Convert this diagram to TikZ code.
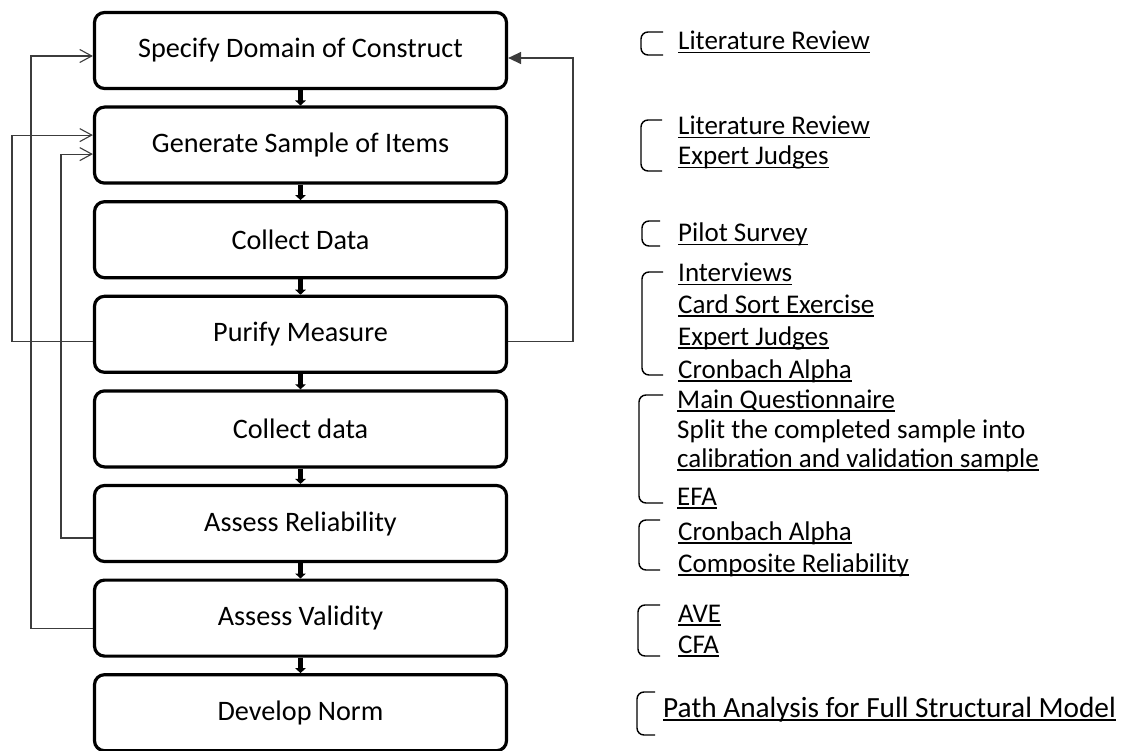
\documentclass[tikz,border=0pt]{standalone}
\usepackage{fontspec}
\setmainfont{Carlito}
\usetikzlibrary{arrows.meta}
% underlined text with a rule a little below the baseline
\newcommand\ulbox[1]{\setbox0\hbox{#1}\rlap{\rule[-3.5pt]{\wd0}{1.6pt}}\box0}
\definecolor{fbgray}{HTML}{3C3C3C}
\begin{document}
\begin{tikzpicture}[x=1pt,y=-1pt,
  stage/.style={draw=black, line width=3.2pt, rounded corners=10pt,
    minimum width=412pt, minimum height=76pt, inner sep=0pt,
    font=\fontsize{28.2}{33}\selectfont},
  flow/.style={draw=black, line width=4.5pt, -{Triangle[length=5pt,width=10.5pt]}},
  fb/.style={draw=fbgray, line width=1.1pt, -{Straight Barb[length=12pt,width=13pt]}},
  fbret/.style={draw=fbgray, line width=1.3pt, -{Triangle[length=13pt,width=12pt]}},
  note/.style={inner sep=0pt, anchor=base west, font=\fontsize{27}{32}\selectfont},
  bignote/.style={inner sep=0pt, anchor=base west, font=\fontsize{29.3}{34}\selectfont},
  brk/.style={draw=black, line width=1.4pt, rounded corners=7pt}]
\useasboundingbox (0,0) rectangle (1127,751);

% process stages
\node[stage] (b1) at (300.5,50.5)  {Specify Domain of Construct};
\node[stage] (b2) at (300.5,145.1) {Generate Sample of Items};
\node[stage] (b3) at (300.5,239.7) {Collect Data};
\node[stage] (b4) at (300.5,334.3) {Purify Measure};
\node[stage] (b5) at (300.5,428.9) {Collect data};
\node[stage] (b6) at (300.5,523.5) {Assess Reliability};
\node[stage] (b7) at (300.5,618.1) {Assess Validity};
\node[stage] (b8) at (300.5,712.7) {Develop Norm};

\foreach \a/\b in {b1/b2,b2/b3,b3/b4,b4/b5,b5/b6,b6/b7,b7/b8}
  \draw[flow] (\a) -- (\b);

% feedback lanes
\coordinate (laneA) at (12,0);
\coordinate (laneB) at (31,0);
\coordinate (laneC) at (61,0);
\coordinate (laneR) at (573,0);

\draw[fb] ([yshift=-7.5pt]b4.west) -- ([yshift=-7.5pt]b4.west -| laneA)
  |- ([yshift=10pt]b2.west);
\draw[fb] ([yshift=-14.5pt]b6.west) -- ([yshift=-14.5pt]b6.west -| laneC)
  |- ([yshift=-9pt]b2.west);
\draw[fb] ([yshift=-10pt]b7.west) -- ([yshift=-10pt]b7.west -| laneB)
  |- ([yshift=-5.5pt]b1.west);
\draw[fbret] ([yshift=-7.5pt]b4.east) -- ([yshift=-7.5pt]b4.east -| laneR)
  |- ([yshift=-7.5pt]b1.east);

% methods for each stage
\node[note] (t1) at (678,50) {\ulbox{Literature Review}};
\draw[brk] (663,32) -- (641,32) -- (641,55) -- (663,55);

\node[note] (t2a) at (678,135) {\ulbox{Literature Review}};
\node[note] (t2b) at (678,165) {\ulbox{Expert Judges}};
\draw[brk] (662,120) -- (641,120) -- (641,171) -- (662,171);

\node[note] (t3) at (678,242) {\ulbox{Pilot Survey}};
\draw[brk] (660,221) -- (642,221) -- (642,246) -- (660,246);

\node[note] (t4a) at (678,282) {\ulbox{Interviews}};
\node[note] (t4b) at (678,313) {\ulbox{Card Sort Exercise}};
\node[note] (t4c) at (678,345) {\ulbox{Expert Judges}};
\node[note] (t4d) at (678,378) {\ulbox{Cronbach Alpha}};
\draw[brk] (663,272) -- (642,272) -- (642,375) -- (663,375);

\node[note] (t5a) at (677,408) {\ulbox{Main Questionnaire}};
\node[note] (t5b) at (677,438) {Split the completed sample into};
\node[note] (t5c) at (677,467) {\ulbox{calibration and validation sample}};
\node[note] (t5d) at (677,505) {\ulbox{EFA}};
\draw[brk] (663,395) -- (639,395) -- (639,503) -- (663,503);

\node[note] (t6a) at (678,540) {\ulbox{Cronbach Alpha}};
\node[note] (t6b) at (678,572) {\ulbox{Composite Reliability}};
\draw[brk] (660,520) -- (639,520) -- (639,570) -- (660,570);

\node[note] (t7a) at (678,622) {\ulbox{AVE}};
\node[note] (t7b) at (678,653) {\ulbox{CFA}};
\draw[brk] (660,605) -- (638,605) -- (638,656) -- (660,656);

\node[bignote] (t8) at (663,717.5) {\ulbox{Path Analysis for Full Structural Model}};
\draw[brk] (655,692) -- (637,692) -- (637,735) -- (655,735);
\end{tikzpicture}
\end{document}
